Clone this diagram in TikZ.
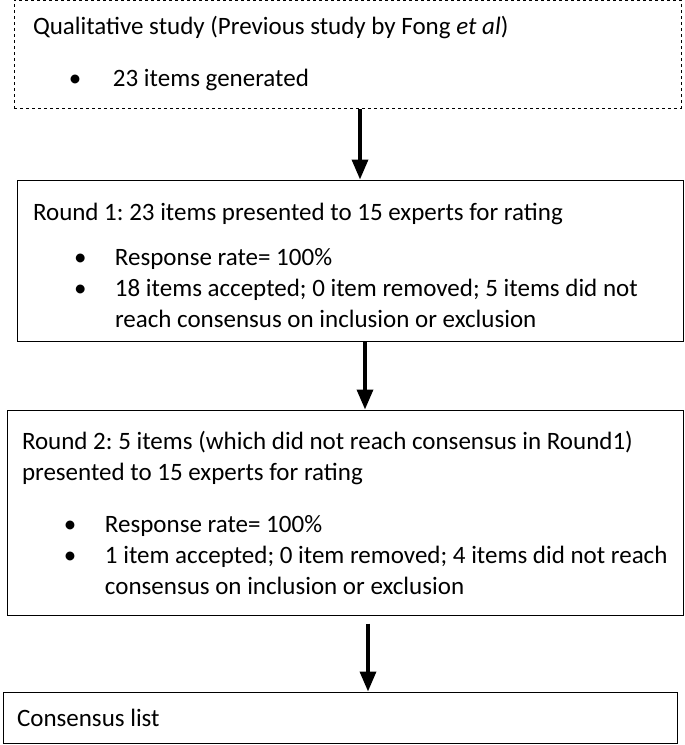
\documentclass[tikz,border=0pt]{standalone}
\usepackage{fontspec}
\setmainfont{Carlito}
\usetikzlibrary{arrows.meta}

\newcommand{\bulitem}[3]{\hspace*{#1}\makebox[#2][l]{\textbullet}#3}

\begin{document}
\begin{tikzpicture}[x=1pt,y=-1pt]
    % Styles for boxes and lines
    \tikzset{
      box/.style={rectangle, draw=black, line width=1pt, align=flush left, inner ysep=0pt,
        font=\fontsize{25}{31}\selectfont\frenchspacing},
      arrow/.style={line width=3.5pt,-{Triangle[length=20pt,width=16pt]}}
    }
    \useasboundingbox (0,0) rectangle (685,745);

    % Boxes with explicit coordinates
    \node[box, dashed, minimum width=667pt, minimum height=108pt, inner xsep=19pt, text width=629pt] (qual) at (347.5,54) {
Qualitative study (Previous study by Fong \textit{et al})\\[21pt]
\bulitem{36pt}{44pt}{23 items generated}};
    \node[box, minimum width=666pt, minimum height=161pt, inner xsep=16pt, text width=634pt] (round1) at (350,260.5) {
\rule{0pt}{28pt}Round 1: 23 items presented to 15 experts for rating\\[14pt]
\bulitem{41pt}{41pt}{Response rate= 100\%}\\
\bulitem{41pt}{41pt}{18 items accepted; 0 item removed; 5 items did not}\\
\hspace*{82pt}reach consensus on inclusion or exclusion};
    \node[box, minimum width=676pt, minimum height=205pt, inner xsep=15pt, text width=646pt] (round2) at (345,512.5) {
Round 2: 5 items (which did not reach consensus in Round1)\\
presented to 15 experts for rating\\[21pt]
\bulitem{42pt}{41pt}{Response rate= 100\%}\\
\bulitem{42pt}{41pt}{1 item accepted; 0 item removed; 4 items did not reach}\\
\hspace*{83pt}consensus on inclusion or exclusion};
    \node[box, minimum width=674pt, minimum height=51pt, inner xsep=14pt, text width=646pt] (list) at (340,717.5) {
Consensus list};

    % Arrows
    \draw[arrow] (qual.south -| 360,0) -- (round1.north -| 360,0);
    \draw[arrow] (round1.south -| 365,0) -- (round2.north -| 365,0);
    \draw[arrow, shorten <=8pt] (round2.south -| 368,0) -- (list.north -| 368,0);

\end{tikzpicture}
\end{document}
